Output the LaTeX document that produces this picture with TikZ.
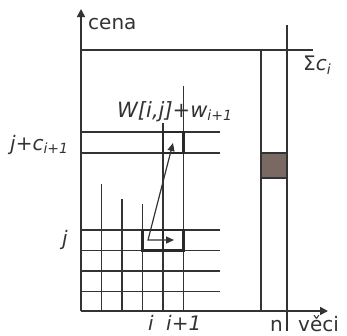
\documentclass[tikz,border=0pt]{standalone}
\usepackage{fontspec}
\setmainfont{DejaVu Sans}
\usetikzlibrary{arrows.meta}
\definecolor{ln}{HTML}{333333}
\definecolor{brn}{RGB}{122,104,98}
\newcommand{\sbs}[1]{\raisebox{-3.5pt}{\fontsize{14}{14}\selectfont #1}}
\begin{document}
\begin{tikzpicture}[x=1pt,y=-1pt,
  ax/.style={line width=1.6pt,draw=ln},
  gl/.style={line width=1.5pt,draw=ln},
  bx/.style={line width=2.3pt,draw=ln!80!black},
  tip/.style={-{Triangle[length=8pt,width=8pt]}},
  lbl/.style={inner sep=0pt,anchor=base west,text=ln,font=\fontsize{20}{24}\selectfont},
  ilbl/.style={lbl,font=\fontsize{20}{24}\selectfont\itshape}]
\useasboundingbox (0,0) rectangle (347,335);
% named points
\coordinate (O) at (81,311);
\coordinate (Yt) at (81,9);
\coordinate (Xt) at (328,311);
% grid horizontals
\foreach \y in {132,153,230,250.5,271,291.5} \draw[gl] (81,\y) -- (220,\y);
% grid verticals
\draw[gl] (101.5,184) -- (101.5,311);
\draw[gl] (122,199) -- (122,311);
\draw[gl] (142.5,204) -- (142.5,311);
\draw[gl] (163,122.5) -- (163,311);
\draw[gl] (183.5,86) -- (183.5,311);
% right part
\draw[gl] (81,50) -- (313,50);
\draw[gl,fill=brn] (261,153) rectangle (287,178);
\draw[gl] (261,50) -- (261,311);
\draw[gl] (287,25) -- (287,331);
% bold boxes
\draw[bx] (163,132) rectangle (183.5,153);
\draw[bx] (142.5,230) rectangle (183.5,250.5);
\draw[bx] (163,230) -- (163,250.5);
% arrows
\coordinate (A) at (148,240);
\coordinate (B) at (173,143);
\coordinate (C) at (174,240);
\draw[gl,line width=1.2pt,{Triangle[length=8pt,width=7pt]}-{Triangle[length=8pt,width=7pt]}] (B) -- (A) -- (C);
% axes
\draw[ax,tip] (O) -- (Yt);
\draw[ax,tip] (O) -- (Xt);
% labels
\node[lbl] (cena) at (88,29) {cena};
\node[lbl] (sum) at (303,70.5) {Σ\textit{c\sbs{i}}};
\node[ilbl,font=\fontsize{21}{24}\selectfont\itshape] (W) at (117,117) {W[i,j]+w\sbs{i+1}};
\node[ilbl] (jc) at (10,150) {j+c\sbs{i+1}};
\node[ilbl] (j) at (62,245) {j};
\node[ilbl] (i) at (148,330) {i};
\node[ilbl] (i1) at (166,330) {i+1};
\node[lbl] (n) at (270,331) {n};
\node[lbl] (veci) at (298,331) {věci};
\end{tikzpicture}
\end{document}
